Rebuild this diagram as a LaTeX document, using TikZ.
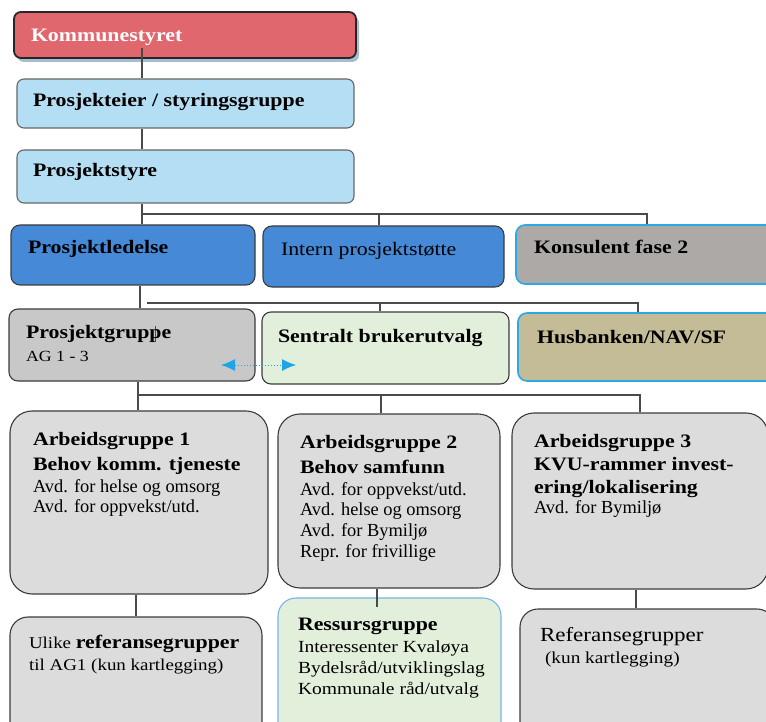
\documentclass[tikz,border=0pt]{standalone}
\usepackage{fontspec}
\setmainfont{Liberation Serif}
\newfontfamily\cb[FakeStretch=1.15]{Liberation Serif}
\usetikzlibrary{arrows.meta}
\definecolor{kred}{HTML}{E0676D}
\definecolor{kshadow}{HTML}{A7BDCF}
\definecolor{lblue}{HTML}{B4DEF3}
\definecolor{mblue}{HTML}{4689D6}
\definecolor{kgrey}{HTML}{ADA9A7}
\definecolor{cyanb}{HTML}{2AAAE2}
\definecolor{pgrey}{HTML}{C8C8C8}
\definecolor{lgreen}{HTML}{E2EFDA}
\definecolor{tan}{HTML}{C4BC97}
\definecolor{agrey}{HTML}{DCDCDC}
\definecolor{rblue}{HTML}{72B6EC}
\definecolor{bline}{HTML}{3C3C3C}
\definecolor{lineg}{HTML}{4A4A4A}
\definecolor{arrc}{HTML}{1EA5E6}
\newcommand\mybox[6]{\node[bx,#6,minimum width={(#4-#2)*1pt},minimum height={(#5-#3)*1pt}] (#1) at ({(#2+#4)/2},{(#3+#5)/2}) {};}
\begin{document}
\begin{tikzpicture}[x=1pt,y=-1pt,
  bx/.style={rectangle,rounded corners=7pt,line width=1.1pt,draw=bline,inner sep=0pt},
  tx/.style={anchor=base west,inner sep=0pt,outer sep=0pt,text=black},
  hb/.style={tx,font=\cb\bfseries\fontsize{19}{22}\selectfont},
  hr/.style={tx,font=\cb\fontsize{19}{22}\selectfont},
  cs/.style={tx,font=\cb\fontsize{16.5}{20}\selectfont},
  tr/.style={tx,font=\fontsize{18.4}{21}\selectfont},
  cn/.style={draw=lineg,line width=1.1pt}]
\useasboundingbox (0,0) rectangle (766,722);
\clip (0,0) rectangle (766,722);
% shadow of top box
\fill[kshadow,rounded corners=7pt] (17,16) rectangle (359,62);
% boxes
\mybox{komm}{14}{12}{356}{58}{fill=kred,draw=black!85,line width=1.8pt}
\mybox{pe}{17}{79}{354}{128}{fill=lblue,draw=black!60}
\mybox{ps}{17}{150}{354}{203}{fill=lblue,draw=black!60}
\mybox{pl}{11}{225}{255}{285}{fill=mblue,rounded corners=9pt}
\mybox{ip}{263}{226}{504}{287}{fill=mblue,rounded corners=9pt}
\mybox{kf}{516}{225}{780}{284}{fill=kgrey,draw=cyanb,line width=1.6pt,rounded corners=9pt}
\mybox{pg}{9}{309}{255}{381}{fill=pgrey,rounded corners=9pt}
\mybox{sb}{262}{312}{509}{384}{fill=lgreen,rounded corners=9pt}
\mybox{hu}{518}{313}{780}{381}{fill=tan,draw=cyanb,line width=1.6pt,rounded corners=9pt}
\mybox{ag1}{10}{411}{268}{594}{fill=agrey,rounded corners=22pt}
\mybox{ag2}{278}{414}{500}{588}{fill=agrey,rounded corners=22pt}
\mybox{ag3}{512}{413}{768}{589}{fill=agrey,rounded corners=22pt}
\mybox{ul}{10}{617}{262}{745}{fill=agrey,rounded corners=18pt}
\mybox{rg}{278}{598}{501}{745}{fill=lgreen,draw=rblue,rounded corners=18pt}
\mybox{rf}{520}{609}{775}{745}{fill=agrey,rounded corners=18pt}
% connector junctions
\coordinate (k0) at (142,48);
\coordinate (j1) at (142,214);
\coordinate (j1r) at (647,214);
\coordinate (j2) at (140,303);
\coordinate (j2s) at (147,303);
\coordinate (j2r) at (638,303);
\coordinate (j3) at (138,395);
\coordinate (j3r) at (640,395);
% connectors
\draw[cn] (k0) -- (k0 |- pe.north);
\draw[cn] (k0 |- pe.south) -- (k0 |- ps.north);
\draw[cn] (k0 |- ps.south) -- (j1) -- (j1 |- pl.north);
\draw[cn] (j1) -- (j1r) -- (j1r |- kf.north);
\draw[cn] (379,214) -- (379,214 |- ip.north);
\draw[cn] (j2 |- pl.south) -- (j2 |- pg.north);
\draw[cn] (j2s) -- (j2r) -- (j2r |- hu.north);
\draw[cn] (380,303) -- (380,303 |- sb.north);
\draw[cn] (j3 |- pg.south) -- (j3 |- ag1.north);
\draw[cn] (j3) -- (j3r) -- (j3r |- ag3.north);
\draw[cn] (381,395) -- (381,395 |- ag2.north);
\draw[cn] (136,0 |- ag1.south) -- (136,0 |- ul.north);
\draw[cn] (377,0 |- ag2.south) -- (377,607);
\draw[cn] (636,0 |- ag3.south) -- (636,0 |- rf.north);
% cursor mark
\draw[black!70,line width=0.7pt] (155,326) -- (155,342);
% double arrow
\coordinate (a1) at (221,365);
\coordinate (a2) at (296,365);
\draw[arrc,line width=1pt,dotted,{Latex[length=14pt,width=12pt]}-{Latex[length=14pt,width=12pt]}] (a1) -- (a2);
% texts
\node[hb,text=white] (t1) at (31,42) {Kommunestyret};
\node[hb] (t2) at (33,107) {Prosjekteier / styringsgruppe};
\node[hb] (t3) at (33,177) {Prosjektstyre};
\node[hb] (t4) at (28,254) {Prosjektledelse};
\node[hr] (t5) at (281,255) {Intern prosjektstøtte};
\node[hb] (t6) at (534,254) {Konsulent fase 2};
\node[hb] (t7) at (26,338) {Prosjektgruppe};
\node[tx,font=\cb\fontsize{15.5}{18}\selectfont] (t8) at (26,361) {AG 1 - 3};
\node[hb] (t9) at (278,342) {Sentralt brukerutvalg};
\node[hb] (t10) at (537,343) {Husbanken/NAV/SF};
\node[hb] (a1a) at (33,445) {Arbeidsgruppe 1};
\node[hb] (a1b) at (33,470) {Behov komm. tjeneste};
\node[tr] (a1c) at (33,492) {Avd. for helse og omsorg};
\node[tr] (a1d) at (33,512) {Avd. for oppvekst/utd.};
\node[hb] (a2a) at (300,448) {Arbeidsgruppe 2};
\node[hb] (a2b) at (300,473) {Behov samfunn};
\node[tr] (a2c) at (300,495) {Avd. for oppvekst/utd.};
\node[tr] (a2d) at (300,515) {Avd. helse og omsorg};
\node[tr] (a2e) at (300,536) {Avd. for Bymiljø};
\node[tr] (a2f) at (300,557) {Repr. for frivillige};
\node[hb] (a3a) at (534,447) {Arbeidsgruppe 3};
\node[hb] (a3b) at (534,470) {KVU-rammer invest-};
\node[hb] (a3c) at (534,493) {ering/lokalisering};
\node[tr] (a3d) at (534,513) {Avd. for Bymiljø};
\node[cs] (u1) at (29,648) {Ulike {\bfseries\fontsize{19}{22}\selectfont referansegrupper}};
\node[cs] (u2) at (29,670) {til AG1 (kun kartlegging)};
\node[hb] (r1) at (298,630) {Ressursgruppe};
\node[tx,font=\cb\fontsize{17}{21}\selectfont] (r2) at (298,652) {Interessenter Kvaløya};
\node[tx,font=\cb\fontsize{17}{21}\selectfont] (r3) at (298,673) {Bydelsråd/utviklingslag};
\node[tx,font=\cb\fontsize{17}{21}\selectfont] (r4) at (298,694) {Kommunale råd/utvalg};
\node[tx,font=\cb\fontsize{20}{24}\selectfont] (f1) at (540,641) {Referansegrupper};
\node[tx,font=\cb\fontsize{16.8}{20}\selectfont] (f2) at (545,663) {(kun kartlegging)};
\end{tikzpicture}
\end{document}
